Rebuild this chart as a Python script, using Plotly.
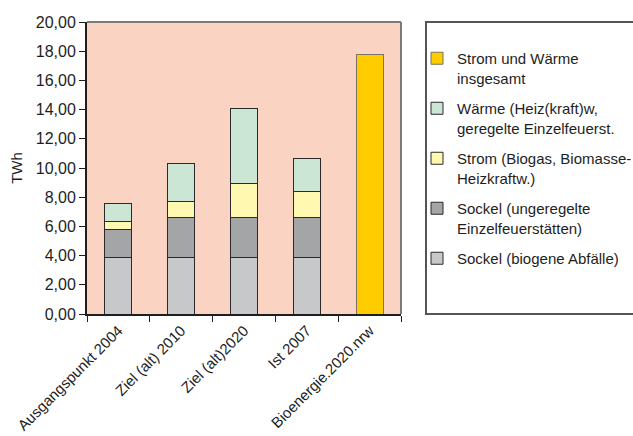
import plotly.graph_objects as go

# Categories and stacked components (TWh)
categories = ["Ausgangspunkt 2004", "Ziel (alt) 2010", "Ziel (alt)2020", "Ist 2007", "Bioenergie.2020.nrw"]
sockel_abfaelle = [3.85, 3.85, 3.85, 3.85, None]
sockel_einzelfeuer = [1.95, 2.77, 2.77, 2.77, None]
strom = [0.55, 1.10, 2.35, 1.78, None]
waerme = [1.23, 2.62, 5.12, 2.22, None]
strom_waerme_gesamt = [None, None, None, None, 17.80]

series = [
    ("Sockel (biogene Abfälle)", sockel_abfaelle, "#C7C8CA", "#2a2a2a"),
    ("Sockel (ungeregelte<br>Einzelfeuerstätten)", sockel_einzelfeuer, "#A4A5A7", "#2a2a2a"),
    ("Strom (Biogas, Biomasse-<br>Heizkraftw.)", strom, "#FFF8B0", "#2a2a2a"),
    ("Wärme (Heiz(kraft)w,<br>geregelte Einzelfeuerst.", waerme, "#CCE6D6", "#2a2a2a"),
    ("Strom und Wärme<br>insgesamt", strom_waerme_gesamt, "#FFCC00", "#7a7262"),
]

FONT = "Liberation Sans, Arial, sans-serif"
INK = "#1e1e1e"
FS = 16
FS_XTICK = 15
FS_LEGEND = 15

fig = go.Figure()
for i, (name, vals, fill, edge) in enumerate(series):
    fig.add_trace(go.Bar(
        x=categories, y=vals, name=name, width=0.43,
        legendgroup=f"g{i}",
        legendrank=1000 - i,  # top of the stack listed first
        marker=dict(color=fill, line=dict(color=edge, width=1)),
    ))

PLOT_L, PLOT_R, PLOT_T, PLOT_B = 87, 401, 22, 314
W, H = 633, 436

def px_to_paper_x(px):
    return (px - PLOT_L) / (PLOT_R - PLOT_L)

def px_to_paper_y(py):
    return (PLOT_B - py) / (PLOT_B - PLOT_T)

fig.update_layout(
    width=W, height=H,
    margin=dict(l=PLOT_L, r=W - PLOT_R, t=PLOT_T, b=H - PLOT_B, pad=0, autoexpand=False),
    barmode="stack",
    separators=", ",
    paper_bgcolor="white",
    plot_bgcolor="#FBD3C2",
    font=dict(family=FONT, size=FS, color=INK),
    showlegend=True,
    legend=dict(
        traceorder="grouped",
        x=px_to_paper_x(417), xanchor="left",
        y=px_to_paper_y(42), yanchor="top",
        bgcolor="rgba(0,0,0,0)",
        borderwidth=0,
        valign="top",
        font=dict(family=FONT, size=FS_LEGEND, color=INK),
        tracegroupgap=8,
        itemwidth=30,
    ),
    xaxis=dict(
        type="category",
        automargin=False,
        tickangle=-45,
        ticks="outside", ticklen=6, tickwidth=1, tickcolor=INK,
        tickson="boundaries",
        showline=True, linecolor=INK, linewidth=2,
        showgrid=False,
        tickfont=dict(family=FONT, size=FS_XTICK, color=INK),
    ),
    yaxis=dict(
        automargin=False,
        range=[0, 20], dtick=2, tickformat=".2f",
        ticks="outside", ticklen=6, tickwidth=1, tickcolor=INK,
        showline=True, linecolor=INK, linewidth=2,
        showgrid=False, zeroline=False,
        title=dict(text="TWh", font=dict(family=FONT, size=15, color=INK), standoff=10),
        tickfont=dict(family=FONT, size=FS, color=INK),
    ),
    shapes=[
        # grey top and right frame of the plot area
        dict(type="line", xref="paper", yref="paper", x0=0, x1=1, y0=1, y1=1,
             line=dict(color="#7a7a7a", width=2), layer="above"),
        dict(type="line", xref="paper", yref="paper", x0=1, x1=1, y0=0, y1=1,
             line=dict(color="#7a7a7a", width=2), layer="above"),
        # legend frame
        dict(type="rect", xref="paper", yref="paper",
             x0=px_to_paper_x(426), x1=px_to_paper_x(640), y0=0.0, y1=1.0,
             line=dict(color="#555555", width=2), fillcolor="rgba(0,0,0,0)", layer="above"),
    ],
)

fig.write_html("out.html")
